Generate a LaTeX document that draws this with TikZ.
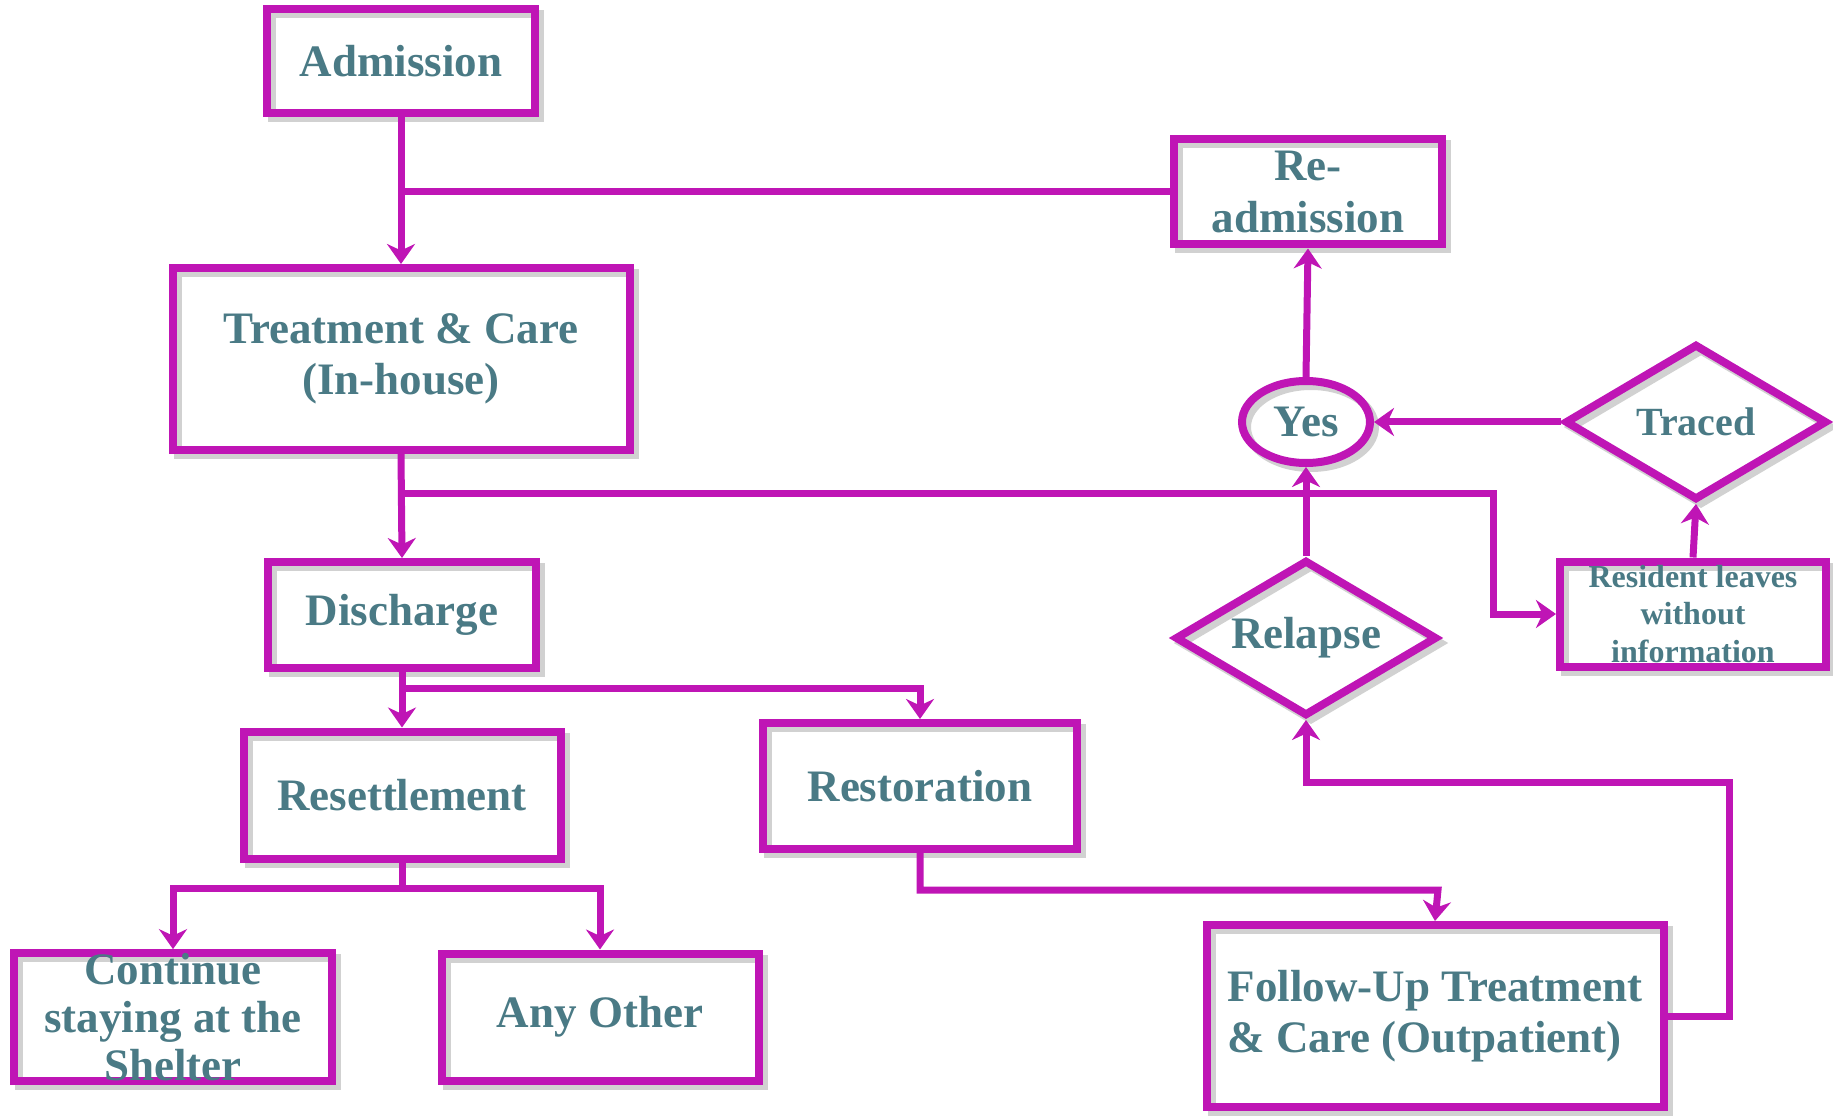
\documentclass[tikz,border=0pt]{standalone}
\usepackage{fontspec}
\setmainfont{Liberation Serif}
\usetikzlibrary{shapes.geometric,arrows.meta,shadows}

\definecolor{flowmag}{HTML}{BF15B5}
\definecolor{flowteal}{HTML}{4A7A85}

\begin{document}
\begin{tikzpicture}[
  x=0.5pt, y=-0.5pt,
  box/.style={
    rectangle,
    draw=flowmag,
    line width=4pt,
    text=flowteal,
    inner sep=2pt,
    align=center,
    font=\fontsize{22.5}{25.7}\selectfont\bfseries,
    general shadow={shadow xshift=2.5pt, shadow yshift=-2.5pt, draw=black!18, line width=4pt}
  },
  decision/.style={
    box,
    diamond,
    aspect=1.7,
    inner sep=0pt,
    minimum width=131pt,
    minimum height=78pt
  },
  answer/.style={
    box,
    ellipse,
    inner sep=0pt,
    minimum width=64pt,
    minimum height=41pt
  },
  arrow/.style={
    -{Stealth[length=10pt,width=14pt]},
    line width=3.5pt,
    draw=flowmag
  },
  line/.style={
    line width=3.5pt,
    draw=flowmag
  }
]

\useasboundingbox (0,0) rectangle (1833,1118);

\node[box, minimum width=134pt, minimum height=52pt] (admission) at (401,61) {Admission};
\node[box, minimum width=134pt, minimum height=52.5pt] (readmit) at (1308,192) {Re-\\admission};
\node[box, minimum width=228.5pt, minimum height=91pt] (treat) at (401,359) {Treatment \& Care\\(In-house)};
\node[answer] (yes) at (1306,422) {Yes};
\node[decision, font=\fontsize{20}{22}\selectfont\bfseries] (traced) at (1696,422) {Traced};
\node[box, minimum width=134pt, minimum height=53pt] (discharge) at (402,615) {Discharge};
\node[decision] (relapse) at (1306,638) {Relapse};
\node[box, minimum width=133pt, minimum height=52.5pt, inner sep=0pt, font=\fontsize{16}{18.7}\selectfont\bfseries] (resident) at (1693,614) {Resident leaves\\without\\information};
\node[box, minimum width=158.5pt, minimum height=63.5pt] (resettle) at (402,795) {Resettlement};
\node[box, minimum width=157pt, minimum height=63pt] (restore) at (920,786) {Restoration};
\node[box, minimum width=159pt, minimum height=63.5pt, inner sep=0pt, font=\fontsize{22.5}{24}\selectfont\bfseries] (cont) at (173,1017) {Continue\\staying at the\\Shelter};
\node[box, minimum width=158.5pt, minimum height=63.5pt] (other) at (600,1017) {Any Other};
\node[box, minimum width=228.5pt, minimum height=91pt, align=left] (followup) at (1435,1016) {Follow-Up Treatment\\\& Care (Outpatient)};

\coordinate (hub) at (1306,493);

% main line
\draw[arrow] (admission.south) -- (treat.north);
\draw[line] (readmit.west) -- (readmit.west -| admission.south);
\draw[arrow] (treat.south) -- (discharge.north);
\draw[line] (treat.south |- hub) -- (hub);
\draw[arrow] (hub) -- ++(187,0) |- (resident.west);

% relapse and tracing
\draw[arrow] (relapse.north) -- (yes.south);
\draw[arrow] (traced.west) -- (yes.east);
\draw[arrow] (resident.north) -- (traced.south);
\draw[arrow] (yes.north) -- (readmit.south);

% discharge branches
\draw[arrow] (discharge.south) -- (resettle.north);
\draw[arrow] (discharge.south) ++(0,16) -| (restore.north);
\draw[arrow] (resettle.south) ++(0,26) -| (cont.north);
\draw[arrow] (resettle.south) |- ++(198,26) -- (other.north);
\draw[line] (resettle.south) -- ++(0,26);
\draw[line] (discharge.south) -- ++(0,16);
\draw[arrow] (restore.south) |- ++(518,37) -- (followup.north);
\draw[arrow] (followup.east) -| ++(62,-234) -| (relapse.south);

\end{tikzpicture}
\end{document}
